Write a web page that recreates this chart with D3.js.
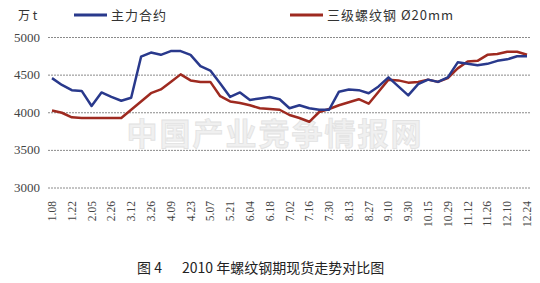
<!DOCTYPE html>
<html>
<head>
<meta charset="utf-8">
<script src="https://cdn.jsdelivr.net/npm/d3@7"></script>
<style>
  body { margin: 0; background: #fff; }
  svg { display: block; }
</style>
</head>
<body>
<div class="chart"></div>
<script>
// weekly dates, every other one is labelled
var dates = ["1.08","1.15","1.22","1.29","2.05","2.12","2.26","3.05","3.12","3.19",
  "3.26","4.02","4.09","4.16","4.23","4.30","5.07","5.14","5.21","5.28",
  "6.04","6.11","6.18","6.25","7.02","7.09","7.16","7.23","7.30","8.06",
  "8.13","8.20","8.27","9.03","9.10","9.17","9.30","10.08","10.15","10.22",
  "10.29","11.05","11.12","11.19","11.26","12.03","12.10","12.17","12.24"];

// 主力合约 (futures)
var futures = [4460,4370,4300,4290,4090,4270,4210,4160,4200,4745,
  4800,4770,4820,4820,4770,4620,4560,4390,4210,4270,
  4170,4190,4210,4180,4060,4100,4060,4040,4040,4280,
  4310,4300,4260,4350,4470,4350,4230,4380,4440,4410,
  4470,4670,4650,4630,4650,4690,4710,4750,4750];

// 三级螺纹钢 Ø20mm (spot)
var spot = [4030,4000,3940,3930,3930,3930,3930,3930,4040,4150,
  4260,4310,4410,4510,4430,4410,4410,4220,4150,4130,
  4100,4060,4050,4040,3970,3930,3880,4010,4050,4100,
  4140,4180,4120,4280,4440,4430,4400,4410,4440,4410,
  4460,4590,4680,4690,4770,4780,4810,4810,4770];

var yTicks = [3000, 3500, 4000, 4500, 5000];

var width = 540, height = 283;

var svg = d3.select('.chart')
            .append('svg')
            .attr('width', width)
            .attr('height', height);

var x = d3.scalePoint()
          .domain(dates)
          .range([52, 527]);

var y = d3.scaleLinear()
          .domain([3000, 5000])
          .range([188, 37.5]);

// watermark
svg.append("text")
   .attr("x", 275)
   .attr("y", 145)
   .attr("text-anchor", "middle")
   .style("font-family", "'Noto Sans CJK SC'")
   .style("font-weight", "bold")
   .style("font-size", "31px")
   .style("letter-spacing", "2px")
   .style("fill", "#f0f0f0")
   .style("stroke", "#e2e2e2")
   .style("stroke-width", 0.8)
   .text("中国产业竞争情报网");

// gridlines
svg.append("g")
   .selectAll("line")
   .data(yTicks)
   .enter().append("line")
   .attr("x1", 48)
   .attr("x2", 531)
   .attr("y1", function(d) { return y(d); })
   .attr("y2", function(d) { return y(d); })
   .attr("stroke", "#8a8a8a")
   .attr("stroke-width", 1)
   .attr("stroke-dasharray", "2,1");

// y labels
svg.append("g")
   .selectAll("text")
   .data(yTicks)
   .enter().append("text")
   .attr("x", 40)
   .attr("y", function(d) { return y(d) + 4; })
   .attr("text-anchor", "end")
   .style("font-family", "'Liberation Serif', serif")
   .style("font-size", "13px")
   .style("fill", "#444")
   .text(function(d) { return d; });

// x labels, rotated
svg.append("g")
   .selectAll("text")
   .data(dates.filter(function(d, i) { return i % 2 === 0; }))
   .enter().append("text")
   .attr("transform", function(d) { return "translate(" + (x(d) + 4) + ",201) rotate(-90)"; })
   .attr("text-anchor", "end")
   .style("font-family", "'Liberation Serif', serif")
   .style("font-size", "11.5px")
   .style("fill", "#444")
   .text(function(d) { return d; });

// lines
var line = d3.line()
             .x(function(d, i) { return x(dates[i]); })
             .y(function(d) { return y(d); });

svg.append("path")
   .datum(spot)
   .attr("d", line)
   .attr("fill", "none")
   .attr("stroke", "#9e2a20")
   .attr("stroke-width", 2.5)
   .attr("stroke-linejoin", "round");

svg.append("path")
   .datum(futures)
   .attr("d", line)
   .attr("fill", "none")
   .attr("stroke", "#29398c")
   .attr("stroke-width", 2.5)
   .attr("stroke-linejoin", "round");

// unit
svg.append("text")
   .attr("x", 18)
   .attr("y", 20)
   .style("font-family", "'Noto Sans CJK SC'")
   .style("font-size", "12px")
   .style("fill", "#333")
   .text("万 t");

// legend
var legend = [
  {name: "主力合约", color: "#29398c", x: 74},
  {name: "三级螺纹钢 Ø20mm", color: "#9e2a20", x: 290}
];

var lg = svg.append("g")
            .selectAll("g")
            .data(legend)
            .enter().append("g");

lg.append("line")
  .attr("x1", function(d) { return d.x; })
  .attr("x2", function(d) { return d.x + 33; })
  .attr("y1", 15)
  .attr("y2", 15)
  .attr("stroke", function(d) { return d.color; })
  .attr("stroke-width", 3);

lg.append("text")
  .attr("x", function(d) { return d.x + 37; })
  .attr("y", 20)
  .style("font-family", "'Noto Sans CJK SC'")
  .style("font-size", "13px")
  .style("letter-spacing", "1px")
  .style("fill", "#333")
  .text(function(d) { return d.name; });

// caption
var cap = svg.append("text")
   .attr("y", 273)
   .style("font-family", "'Noto Sans CJK SC'")
   .style("font-size", "14px")
   .style("fill", "#222");
cap.append("tspan").attr("x", 137).text("图 4");
cap.append("tspan").attr("x", 182).text("2010 年螺纹钢期现货走势对比图");
</script>
</body>
</html>
